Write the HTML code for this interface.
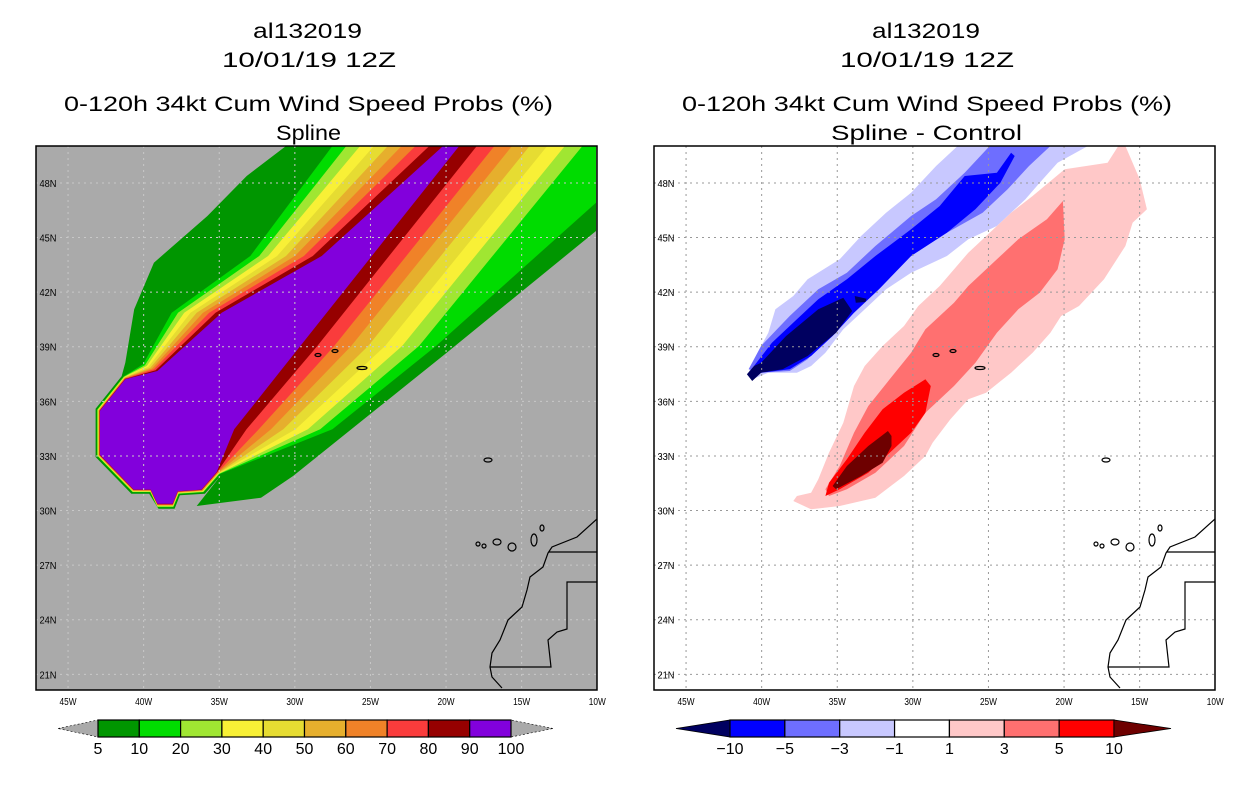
<!DOCTYPE html>
<html><head><meta charset="utf-8"><style>
html,body{margin:0;padding:0;background:#fff;}
svg{display:block;font-family:"Liberation Sans",sans-serif;}
</style></head><body>
<svg id="root" width="1236" height="800" viewBox="0 0 1236 800" xmlns="http://www.w3.org/2000/svg">
<g font-size="21" fill="#000">
<text x="253" y="38" textLength="109" lengthAdjust="spacingAndGlyphs">al132019</text>
<text x="222" y="67" textLength="174" lengthAdjust="spacingAndGlyphs">10/01/19 12Z</text>
<text x="64" y="111" textLength="489" lengthAdjust="spacingAndGlyphs">0-120h 34kt Cum Wind Speed Probs (%)</text>
<text x="276" y="140" textLength="65" lengthAdjust="spacingAndGlyphs">Spline</text>
</g>
<g font-size="21" fill="#000">
<text x="872" y="38" textLength="108" lengthAdjust="spacingAndGlyphs">al132019</text>
<text x="840" y="67" textLength="174" lengthAdjust="spacingAndGlyphs">10/01/19 12Z</text>
<text x="682" y="111" textLength="490" lengthAdjust="spacingAndGlyphs">0-120h 34kt Cum Wind Speed Probs (%)</text>
<text x="831" y="140" textLength="191" lengthAdjust="spacingAndGlyphs">Spline - Control</text>
</g>
<g id="leftPanel"></g>
<g id="rightPanel"></g>
<g id="leftBar"></g>
<g id="rightBar"></g>
</svg>
<script>
const NS="http://www.w3.org/2000/svg";
const lonTicks=[-45,-40,-35,-30,-25,-20,-15,-10];
const lonLabels=["45W","40W","35W","30W","25W","20W","15W","10W"];
const latTicks=[21,24,27,30,33,36,39,42,45,48];
const latLabels=["21N","24N","27N","30N","33N","36N","39N","42N","45N","48N"];
const probLevels=["5","10","20","30","40","50","60","70","80","90","100"];
const probColors=["#009600","#00dc00","#a0e632","#f8f036","#e6dc32","#e6af2d","#f08228","#fa3c3c","#960000","#8200dc"];
const diffLevels=["\u221210","\u22125","\u22123","\u22121","1","3","5","10"];
const diffColors=["#000060","#0000ff","#6e6eff","#c8c8ff","#ffffff","#ffc8c8","#ff7070","#ff0000","#6e0000"];

const PX0=36,PY0=146,PW=561,PH=544;
function lonX(lon,off){return off+PX0+(lon+47.12)*15.12;}
function latY(lat){return PY0+(50.03-lat)*18.2;}
function zx(v,off){return off+PX0+v/2.8;}
function zy(v){return PY0+v/3;}
function mk(tag,attrs,parent){const e=document.createElementNS(NS,tag);for(const k in attrs)e.setAttribute(k,attrs[k]);parent.appendChild(e);return e;}
function pts(arr,off){return arr.map(p=>zx(p[0],off).toFixed(1)+","+zy(p[1]).toFixed(1)).join(" ");}
function lerp(a,b,t){return a+(b-a)*t;}

const blob=[[300,655],[245,690],[170,790],[170,930],[270,1040],[320,1040],[340,1085],[385,1085],[400,1045],[470,1040],[515,985]];
const outerNW=[[700,0],[590,90],[480,210],[330,350],[275,490],[250,650],[240,690]];
const outerSE=[[450,1080],[630,1055],[720,990],[1150,620],[1568,255],[1568,0]];

function buildLeft(){
  const off=0,g=document.getElementById('leftPanel');
  mk('rect',{x:PX0,y:PY0,width:PW,height:PH,fill:'#aaaaaa'},g);
  const clip=mk('clipPath',{id:'clipL'},g);mk('rect',{x:PX0,y:PY0,width:PW,height:PH},clip);
  const cg=mk('g',{'clip-path':'url(#clipL)'},g);
  const bo=blob.map(p=>[p[0]+(p[0]<340?-3:3),p[1]+(p[1]>870?3:-2)]);
  let p0=mk('polygon',{points:pts(outerNW.concat(bo.slice(1)).concat(outerSE),off),fill:probColors[0]},cg);
  
  for(let k=1;k<=9;k++){
    const t=(k-1)/8,s=1-0.006*k;
    const nw=[[lerp(830,1140,t),0],[lerp(600,800,t),330],[lerp(380,520,t),500],[lerp(300,340,t),lerp(655,675,t)]];
    const bl=blob.slice(1).map(p=>[340+(p[0]-340)*s,870+(p[1]-870)*s]);
    let se=[[lerp(830,555,t),850],[lerp(1120,740,t),600]];
    if(k===1)se=se.concat([[1568,170],[1568,0]]);else se.push([lerp(1530,1185,(k-2)/7),0]);
    const poly=mk('polygon',{points:pts(nw.concat(bl).concat(se),off),fill:probColors[k]},cg);
    
    
  }
  drawCommon(cg,off,'#c8c8c8');
  frame(g,off);
}
function buildRight(){
  const off=618,g=document.getElementById('rightPanel');
  mk('rect',{x:off+PX0,y:PY0,width:PW,height:PH,fill:'#fff'},g);
  const clip=mk('clipPath',{id:'clipR'},g);mk('rect',{x:off+PX0,y:PY0,width:PW,height:PH},clip);
  const cg=mk('g',{'clip-path':'url(#clipR)'},g);
  const shapes=[
   ['diff-minus-1',diffColors[3],[[850,0],[790,60],[720,140],[650,200],[580,270],[520,340],[430,400],[390,450],[340,490],[320,560],[290,620],[265,680],[275,700],[320,680],[400,680],[440,660],[480,620],[530,550],[600,480],[650,430],[720,380],[820,330],[880,280],[960,240],[1040,160],[1080,110],[1130,50],[1215,0]]],
   ['diff-minus-3',diffColors[2],[[940,0],[870,80],[790,160],[720,210],[620,300],[540,380],[460,430],[380,510],[300,600],[265,670],[300,680],[380,675],[430,640],[500,560],[560,480],[620,400],[720,320],[820,260],[920,200],[990,130],[1050,60],[1110,0]]],
   ['diff-minus-5',diffColors[1],[[1000,20],[960,80],[870,90],[800,180],[720,250],[620,330],[540,400],[460,460],[400,520],[330,590],[280,660],[300,680],[380,670],[440,630],[500,570],[560,500],[630,430],[720,330],[820,260],[900,190],[970,110],[1010,30]]],
   ['diff-minus-10',diffColors[0],[[300,650],[370,570],[460,490],[530,455],[555,495],[510,560],[430,630],[360,670],[300,680],[275,705],[260,685],[280,660]]],
   ['diff-minus-10b',diffColors[0],[[562,450],[595,458],[592,468],[565,470]]],
   ['diff-plus-1',diffColors[5],[[1300,0],[1270,50],[1150,70],[1060,150],[1000,200],[940,260],[880,320],[800,420],[740,480],[700,540],[640,600],[590,660],[560,720],[530,830],[490,920],[460,1000],[440,1040],[400,1050],[390,1065],[440,1090],[520,1080],[620,1055],[700,990],[760,930],[780,890],[830,820],[880,760],[930,740],[1000,680],[1060,620],[1110,560],[1140,510],[1190,480],[1260,400],[1320,300],[1340,230],[1380,190],[1360,100],[1320,0]]],
   ['diff-plus-3',diffColors[6],[[1145,165],[1100,220],[1020,280],[960,340],[880,420],[840,470],[760,550],[720,620],[660,700],[600,780],[560,860],[520,960],[480,1030],[490,1050],[540,1030],[620,980],[700,900],[760,800],[840,720],[900,650],[960,560],[1020,490],[1080,440],[1130,370],[1150,280]]],
   ['diff-plus-5',diffColors[7],[[760,700],[700,740],[640,790],[590,860],[540,940],[490,1010],[480,1050],[520,1030],[600,980],[660,920],[720,860],[760,800],[775,720]]],
   ['diff-plus-10',diffColors[8],[[655,855],[600,900],[540,960],[500,1020],[510,1030],[580,990],[640,950],[665,900],[665,870]]]
  ];
  shapes.forEach(s=>{const p=mk('polygon',{points:pts(s[2],off),fill:s[1]},cg);
    });
  drawCommon(cg,off,'#999');
  frame(g,off);
}
function drawCommon(g,off,gc){
  const gl=mk('g',{stroke:gc,'stroke-width':1,'stroke-dasharray':'2,4',fill:'none'},g);
  
  lonTicks.forEach(l=>{const x=lonX(l,off);mk('line',{x1:x,y1:PY0,x2:x,y2:PY0+PH},gl);});
  latTicks.forEach(l=>{const y=latY(l);mk('line',{x1:off+PX0,y1:y,x2:off+PX0+PW,y2:y},gl);});
  const c=mk('g',{stroke:'#000','stroke-width':1.2,fill:'none'},g);
  
  const P=a=>a.map(p=>(p[0]+off)+","+p[1]).join(" ");
  mk('polyline',{points:P([[597,519],[577,537],[552,547],[548,553],[543,567],[530,577],[527,590],[522,607],[508,620],[500,640],[492,653],[490,667],[492,677],[502,688]])},c);
  mk('polyline',{points:P([[549,552],[597,552]])},c);
  mk('polyline',{points:P([[597,582],[567,582],[567,629],[557,632],[548,640],[551,667],[490,667]])},c);
  [[488,460,4,2],[478,544,2,2],[484,546,2,2],[497,542,4,3],[512,547,4,4],[534,540,3,6],[542,528,2,3],[318,355,3,1.5],[335,351,3,1.5],[362,368,5,1.5]].forEach(e=>
    mk('ellipse',{cx:e[0]+off,cy:e[1],rx:e[2],ry:e[3]},c));
}
function frame(g,off){
  const f=mk('rect',{x:off+PX0,y:PY0,width:PW,height:PH,fill:'none',stroke:'#000','stroke-width':1.5},g);
  
  lonTicks.forEach((l,i)=>{const t=mk('text',{x:lonX(l,off),y:705,'font-size':10,'text-anchor':'middle',textLength:17,lengthAdjust:'spacingAndGlyphs'},g);
    t.textContent=lonLabels[i];});
  latTicks.forEach((l,i)=>{const t=mk('text',{x:off+48,y:latY(l)+4,'font-size':10,'text-anchor':'middle',textLength:17,lengthAdjust:'spacingAndGlyphs'},g);
    t.textContent=latLabels[i];});
}
function colorbar(id,x0,x1,tipL,tipR,colors,labels,leftTip,rightTip,labelOffset){
  const g=document.getElementById(id),y0=720,y1=737,n=colors.length-(leftTip?1:0)-(rightTip?1:0);
  const w=(x1-x0)/n,ym=(y0+y1)/2;
  let ci=0;
  if(leftTip){mk('polygon',{points:`${tipL},${ym} ${x0},${y0} ${x0},${y1}`,fill:colors[0],stroke:'#000','stroke-width':0.8},g);ci=1;}
  for(let i=0;i<n;i++){const r=mk('rect',{x:x0+i*w,y:y0,width:w,height:y1-y0,fill:colors[ci+i],stroke:'#000','stroke-width':1.2},g);
    }
  if(rightTip)mk('polygon',{points:`${tipR},${ym} ${x1},${y0} ${x1},${y1}`,fill:colors[colors.length-1],stroke:'#000','stroke-width':0.8},g);
  labels.forEach((s,i)=>{const t=mk('text',{x:x0+(i+labelOffset)*w,y:754,'font-size':16,'text-anchor':'middle'},g);
    t.textContent=s;});
}
buildLeft();buildRight();
(function(){const g=document.getElementById('leftBar');
 mk('polygon',{points:'58,728.5 98,720 98,737',fill:'#aaaaaa',stroke:'#000','stroke-width':0.6,'stroke-dasharray':'2,2'},g);
 mk('polygon',{points:'553,728.5 511,720 511,737',fill:'#aaaaaa',stroke:'#000','stroke-width':0.6,'stroke-dasharray':'2,2'},g);})();
colorbar('leftBar',98,511,58,553,probColors,probLevels,false,false,0);
colorbar('rightBar',730,1114,676,1171,diffColors,diffLevels,true,true,0);
</script>
</body></html>
